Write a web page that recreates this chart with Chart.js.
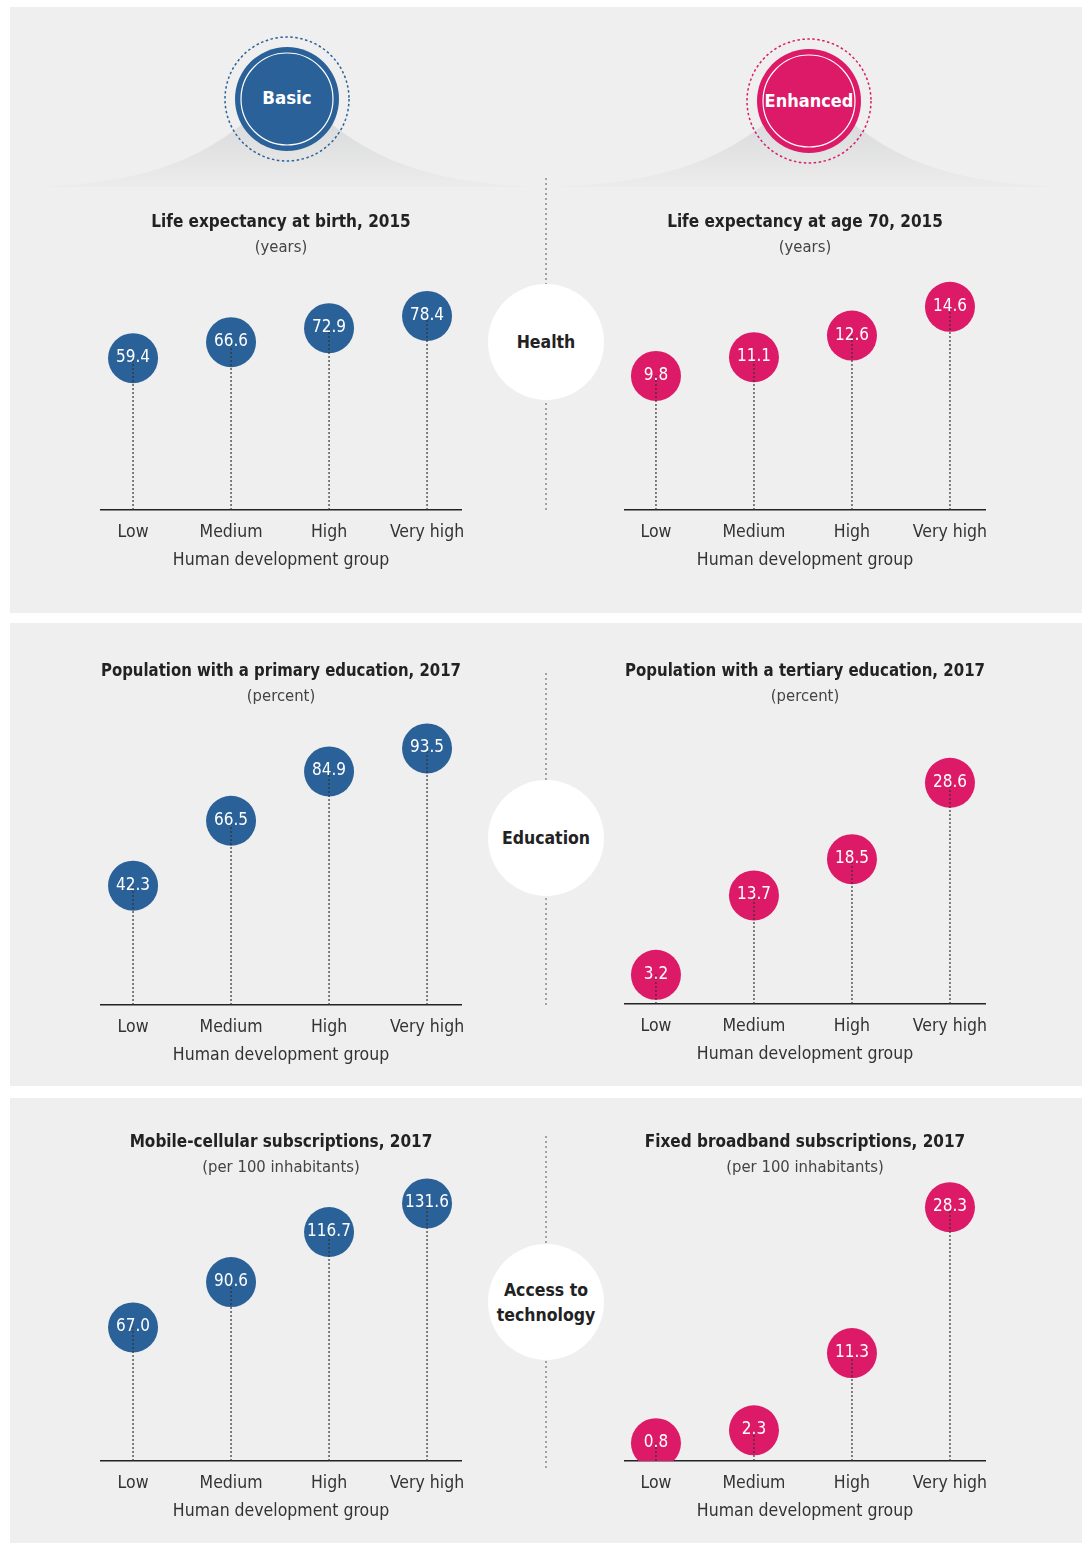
<!DOCTYPE html>
<html>
<head>
<meta charset="utf-8">
<script src="https://cdn.jsdelivr.net/npm/chart.js@4"></script>
<style>
  body { margin: 0; background: #fff; }
  #wrap { position: relative; width: 1086px; height: 1543px; overflow: hidden; }
  #deco { position: absolute; left: 0; top: 0; }
  .chart { position: absolute; }
  svg text { font-family: 'DejaVu Sans Condensed', 'Liberation Sans', sans-serif; }
</style>
</head>
<body>
<div id="wrap">
<svg id="deco" width="1086" height="1543">
  <defs>
    <linearGradient id="hill" x1="0" y1="0" x2="0" y2="1">
      <stop offset="0" stop-color="#d4d5d7"/>
      <stop offset="1" stop-color="#ececec"/>
    </linearGradient>
  </defs>
  <rect x="10" y="7" width="1072" height="606" fill="#efefef"/>
  <rect x="10" y="623" width="1072" height="463" fill="#efefef"/>
  <rect x="10" y="1098" width="1072" height="445" fill="#efefef"/>

  <!-- hills under the header badges -->
  <path d="M30 187 C140 184 195 162 245 122 L287 100 L329 122 C379 162 435 184 545 187 Z" fill="url(#hill)"/>
  <path d="M548 187 C658 184 717 162 767 122 L809 100 L851 122 C901 162 957 184 1065 187 Z" fill="url(#hill)"/>

  <!-- badges -->
  <circle cx="287" cy="99" r="62" fill="none" stroke="#2a6198" stroke-width="1.5" stroke-dasharray="2.5 2.5"/>
  <circle cx="287" cy="99" r="52" fill="#2a6198"/>
  <circle cx="287" cy="99" r="46" fill="none" stroke="#fff" stroke-width="1.2"/>
  <text x="287" y="104" fill="#fff" font-size="18.5" font-weight="bold" text-anchor="middle">Basic</text>

  <circle cx="809" cy="101" r="62" fill="none" stroke="#dd1a67" stroke-width="1.5" stroke-dasharray="2.5 2.5"/>
  <circle cx="809" cy="101" r="52" fill="#dd1a67"/>
  <circle cx="809" cy="101" r="46" fill="none" stroke="#fff" stroke-width="1.2"/>
  <text x="809" y="107" fill="#fff" font-size="18" font-weight="bold" text-anchor="middle">Enhanced</text>

  <!-- dotted separators -->
  <g stroke="#8a8a8a" stroke-width="1.5" stroke-dasharray="2 3">
    <line x1="546" y1="178" x2="546" y2="511"/>
    <line x1="546" y1="673" x2="546" y2="1006"/>
    <line x1="546" y1="1136" x2="546" y2="1471"/>
  </g>

  <!-- section badges -->
  <g fill="#fff">
    <circle cx="546" cy="342" r="58"/>
    <circle cx="546" cy="838" r="58"/>
    <circle cx="546" cy="1302" r="58"/>
  </g>
  <g fill="#222" font-size="17.5" font-weight="bold" text-anchor="middle">
    <text x="546" y="348">Health</text>
    <text x="546" y="844">Education</text>
    <text x="546" y="1296">Access to</text>
    <text x="546" y="1321">technology</text>
  </g>
</svg>
<canvas id="c1" class="chart"></canvas>
<canvas id="c2" class="chart"></canvas>
<canvas id="c3" class="chart"></canvas>
<canvas id="c4" class="chart"></canvas>
<canvas id="c5" class="chart"></canvas>
<canvas id="c6" class="chart"></canvas>
</div>
<script>
// categories and values
const groups = ['Low', 'Medium', 'High', 'Very high'];
const lifeBirth = [59.4, 66.6, 72.9, 78.4];
const lifeAt70 = [9.8, 11.1, 12.6, 14.6];
const primaryEdu = [42.3, 66.5, 84.9, 93.5];
const tertiaryEdu = [3.2, 13.7, 18.5, 28.6];
const mobileSubs = [67.0, 90.6, 116.7, 131.6];
const broadbandSubs = [0.8, 2.3, 11.3, 28.3];

const titles = [
  'Life expectancy at birth, 2015',
  'Life expectancy at age 70, 2015',
  'Population with a primary education, 2017',
  'Population with a tertiary education, 2017',
  'Mobile-cellular subscriptions, 2017',
  'Fixed broadband subscriptions, 2017'
];
const units = ['(years)', '(years)', '(percent)', '(percent)', '(per 100 inhabitants)', '(per 100 inhabitants)'];
const axisTitle = 'Human development group';

const BLUE = '#2a6198';
const PINK = '#dd1a67';
const FONT = "'DejaVu Sans Condensed', 'Liberation Sans', sans-serif";
Chart.defaults.font.family = FONT;

// value labels inside the circles
const bubbleLabels = {
  id: 'bubbleLabels',
  afterDatasetsDraw(chart) {
    const meta = chart.getDatasetMeta(1);
    const vals = chart.data.datasets[1].data;
    const ctx = chart.ctx;
    ctx.save();
    ctx.fillStyle = '#fff';
    ctx.font = '17px ' + FONT;
    ctx.textAlign = 'center';
    ctx.textBaseline = 'middle';
    meta.data.forEach((pt, i) => {
      ctx.fillText(vals[i].y.toFixed(1), Math.round(pt.x), Math.round(pt.y));
    });
    ctx.restore();
  }
};

function makeChart(id, n, values, color, g) {
  const W = 480;
  const left = g.titleX - W / 2;
  const top = Math.round(g.titleY - 12.7);
  const xH = 64;
  const el = document.getElementById(id);
  el.style.left = left + 'px';
  el.style.top = top + 'px';
  el.style.width = W + 'px';
  el.style.height = (g.bottom + xH - top) + 'px';

  const stems = values.flatMap((v, i) => [{x: i, y: g.min}, {x: i, y: v}, {x: i, y: null}]);
  const dots = values.map((v, i) => ({x: i, y: v}));

  new Chart(el, {
    type: 'line',
    data: {
      datasets: [{
        data: stems,
        borderColor: '#333',
        borderWidth: 1.2,
        borderDash: [2, 2],
        pointRadius: 0,
        spanGaps: false
      }, {
        data: dots,
        showLine: false,
        pointRadius: 25,
        pointBackgroundColor: color,
        pointBorderWidth: 0,
        clip: {left: false, right: false, top: false, bottom: 0}
      }]
    },
    options: {
      responsive: false,
      maintainAspectRatio: false,
      animation: false,
      events: [],
      layout: {
        padding: {top: 4, bottom: 0, left: g.areaLeft - left, right: left + W - g.areaLeft - 360}
      },
      plugins: {
        legend: {display: false},
        tooltip: {enabled: false},
        title: {
          display: true, text: titles[n], color: '#222',
          font: {size: 17, weight: 'bold', lineHeight: 1.2},
          padding: {top: 0, bottom: 5}
        },
        subtitle: {
          display: true, text: units[n], color: '#444',
          font: {size: 16.5, lineHeight: 1.2},
          padding: {top: 0, bottom: g.top - top - 49.2}
        }
      },
      scales: {
        x: {
          type: 'linear',
          min: g.xMin,
          max: g.xMin + 360 / 98,
          grid: {display: false},
          border: {display: true, color: '#222', width: 1.5},
          afterBuildTicks: (s) => { s.ticks = groups.map((c, i) => ({value: i})); },
          afterFit: (s) => { s.height = xH; },
          ticks: {
            autoSkip: false, maxRotation: 0, padding: 4, color: '#333',
            font: {size: 17.5},
            callback: (v) => groups[v]
          },
          title: {
            display: true, text: axisTitle, color: '#333',
            font: {size: 17.5}, padding: {top: 2, bottom: 3}
          }
        },
        y: {display: false, min: g.min, max: g.max}
      }
    },
    plugins: [bubbleLabels]
  });
}

makeChart('c1', 0, lifeBirth, BLUE, {titleX: 286, titleY: 221, areaLeft: 101, xMin: -0.327, top: 280, bottom: 510, min: -9.0, max: 94.6});
makeChart('c2', 1, lifeAt70, PINK, {titleX: 806, titleY: 221, areaLeft: 625, xMin: -0.316, top: 280, bottom: 510, min: 0.49, max: 16.46});
makeChart('c3', 2, primaryEdu, BLUE, {titleX: 280, titleY: 670, areaLeft: 101, xMin: -0.327, top: 720, bottom: 1005, min: -2.24, max: 104.1});
makeChart('c4', 3, tertiaryEdu, PINK, {titleX: 809, titleY: 670, areaLeft: 625, xMin: -0.316, top: 720, bottom: 1004, min: -0.66, max: 36.9});
makeChart('c5', 4, mobileSubs, BLUE, {titleX: 280, titleY: 1141, areaLeft: 101, xMin: -0.327, top: 1180, bottom: 1461, min: -2.6, max: 143.8});
makeChart('c6', 5, broadbandSubs, PINK, {titleX: 800, titleY: 1141, areaLeft: 625, xMin: -0.316, top: 1180, bottom: 1461, min: -1.28, max: 31.47});
</script>
</body>
</html>
